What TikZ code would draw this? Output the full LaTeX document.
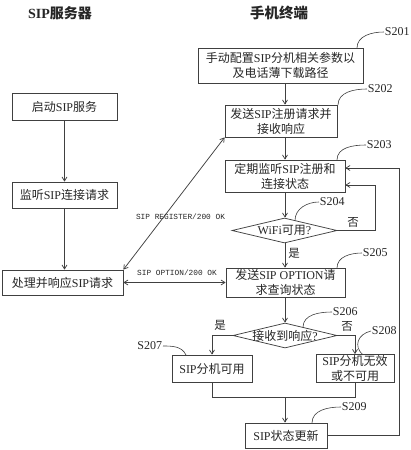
\documentclass[tikz,border=0pt]{standalone}
\usepackage{fontspec}
\setmainfont{Liberation Serif}
\newfontfamily\cjk{Noto Sans CJK SC}
\newfontfamily\monof{Liberation Mono}
\usetikzlibrary{shapes.geometric,arrows.meta}
\newcommand\zh[1]{{\cjk #1}}
\definecolor{linec}{rgb}{0.25,0.25,0.25}
\definecolor{textc}{rgb}{0.15,0.15,0.15}
\begin{document}
\begin{tikzpicture}[x=1pt,y=-1pt,line width=0.75pt,
  every node/.style={text=textc},
  box/.style={draw=linec,rectangle,inner sep=1pt,align=center,
    font=\fontsize{12}{15}\selectfont},
  dia/.style={draw=linec,diamond,inner sep=0pt,aspect=4.2,
    font=\fontsize{12}{15}\selectfont},
  arr/.style={draw=linec,-{Straight Barb[length=4pt,width=5pt]}},
  both/.style={draw=linec,{Straight Barb[length=4pt,width=5pt]}-{Straight Barb[length=4pt,width=5pt]}},
  ln/.style={draw=linec},
  lead/.style={draw=linec,line width=0.6pt},
  stp/.style={font=\fontsize{12}{14}\selectfont,inner sep=0.5pt},
  msg/.style={font=\monof\fontsize{7.8}{9}\selectfont,inner sep=0pt},
  yn/.style={font=\cjk\fontsize{11.5}{13}\selectfont,inner sep=0pt}]
\useasboundingbox (0,0) rectangle (410,450);
% titles
\node[font=\fontsize{14}{16}\selectfont\bfseries] (t1) at (60,13) {SIP{\cjk\bfseries 服务器}};
\node[font=\fontsize{14.5}{16}\selectfont] (t2) at (279,13) {{\cjk\bfseries 手机终端}};
% left column
\node[box,minimum width=105pt,minimum height=27pt] (L1) at (64.5,106.5) {\zh{启动}SIP\zh{服务}};
\node[box,minimum width=105pt,minimum height=26pt] (L2) at (64.5,195) {\zh{监听}SIP\zh{连接请求}};
\node[box,minimum width=121pt,minimum height=25pt] (L3) at (62.5,282.5) {\zh{处理并响应}SIP\zh{请求}};
\draw[arr] (L1.south) -- (L1.south |- L2.north);
\draw[arr] (L2.south) -- (L2.south |- L3.north);
% right column
\coordinate (X) at (285,0);
\node[box,minimum width=165pt,minimum height=35pt] (R1) at (280.5,65.5) {\zh{手动配置}SIP\zh{分机相关参数以}\\\zh{及电话薄下载路径}};
\node[box,minimum width=112pt,minimum height=32pt] (R2) at (281,121) {\zh{发送}SIP\zh{注册请求并}\\\zh{接收响应}};
\node[box,minimum width=120pt,minimum height=32pt] (R3) at (285,176) {\zh{定期监听}SIP\zh{注册和}\\\zh{连接状态}};
\node[dia,minimum width=105pt,minimum height=25pt] (D1) at (284.5,230.5) {\makebox[0pt]{WiFi\zh{可用}?}};
\node[box,minimum width=119pt,minimum height=29pt] (R5) at (285.5,282.5) {\zh{发送}SIP OPTION\zh{请}\\\zh{求查询状态}};
\node[dia,minimum width=104pt,minimum height=25pt] (D2) at (285,335.5) {\makebox[0pt]{\zh{接收到响应}?}};
\node[box,minimum width=80pt,minimum height=27pt] (R7) at (212,368.5) {SIP\zh{分机可用}};
\node[box,minimum width=78pt,minimum height=27pt] (R8) at (355,368.5) {SIP\zh{分机无效}\\\zh{或不可用}};
\node[box,minimum width=82pt,minimum height=25pt] (R9) at (286,435.5) {SIP\zh{状态更新}};
% main flow
\draw[arr] (R1.south -| X) -- (R2.north -| X);
\draw[arr] (R2.south -| X) -- (R3.north -| X);
\draw[arr] (R3.south -| X) -- (D1.north -| X);
\draw[arr] (D1.south -| X) -- (R5.north -| X);
\draw[arr] (R5.south -| X) -- (D2.north -| X);
\node[yn] (y1) at (294,253) {是};
% WiFi no loop
\coordinate (w1) at (375,230.5);
\coordinate (w2) at (375,185);
\draw[arr] (D1.east) -- (w1) -- (w2) -- (w2 -| R3.east);
\node[yn] (n1) at (353,222) {否};
% status update loop
\coordinate (u1) at (399,435.5);
\coordinate (u2) at (399,168);
\draw[arr] (R9.east) -- (u1) -- (u2) -- (u2 -| R3.east);
% branches of D2
\coordinate (b1) at (212,335.5);
\coordinate (b2) at (355,335.5);
\draw[arr] (D2.west) -- (b1) -- (R7.north);
\draw[arr] (D2.east) -- (b2) -- (R8.north);
\node[yn] (y2) at (220,325) {是};
\node[yn] (n2) at (347,326) {否};
% merge
\coordinate (m1) at (212,397);
\coordinate (m2) at (355,397);
\coordinate (m3) at (285,397);
\draw[ln] (R7.south) -- (m1) -- (m2) -- (R8.south);
\draw[arr] (m3) -- (R9.north -| m3);
% server-terminal messages
\draw[both] (L3.north east) -- (R2.south west);
\node[msg] (msg1) at (180.5,217) {SIP REGISTER/200 OK};
\draw[both] (R5.west) -- (R5.west -| L3.east);
\node[msg] (msg2) at (177,273) {SIP OPTION/200 OK};
% step labels
\node[stp,anchor=west] (s201) at (384,32) {S201};
\draw[lead] (357,48) to[out=90,in=180] (s201.west);
\node[stp,anchor=west] (s202) at (367,89) {S202};
\draw[lead] (338,105) to[out=90,in=180] (s202.west);
\node[stp,anchor=west] (s203) at (366,145) {S203};
\draw[lead] (337,160) to[out=90,in=180] (s203.west);
\node[stp,anchor=west] (s204) at (319,202) {S204};
\draw[lead] (295,220.5) to[out=90,in=180] (s204.west);
\node[stp,anchor=west] (s205) at (362,253) {S205};
\draw[lead] (337,268) to[out=90,in=180] (s205.west);
\node[stp,anchor=west] (s206) at (332,312) {S206};
\draw[lead] (303,327.3) to[out=90,in=180] (s206.west);
\node[stp,anchor=east] (s207) at (163,346) {S207};
\draw[lead] (s207.east) to[out=0,in=115] (186,355);
\node[stp,anchor=west] (s208) at (371,331) {S208};
\draw[lead] (s208.west) .. controls (358,334) and (353,346) .. (363,355);
\node[stp,anchor=west] (s209) at (341,407) {S209};
\draw[lead] (312,423) to[out=90,in=180] (s209.west);
\end{tikzpicture}
\end{document}
